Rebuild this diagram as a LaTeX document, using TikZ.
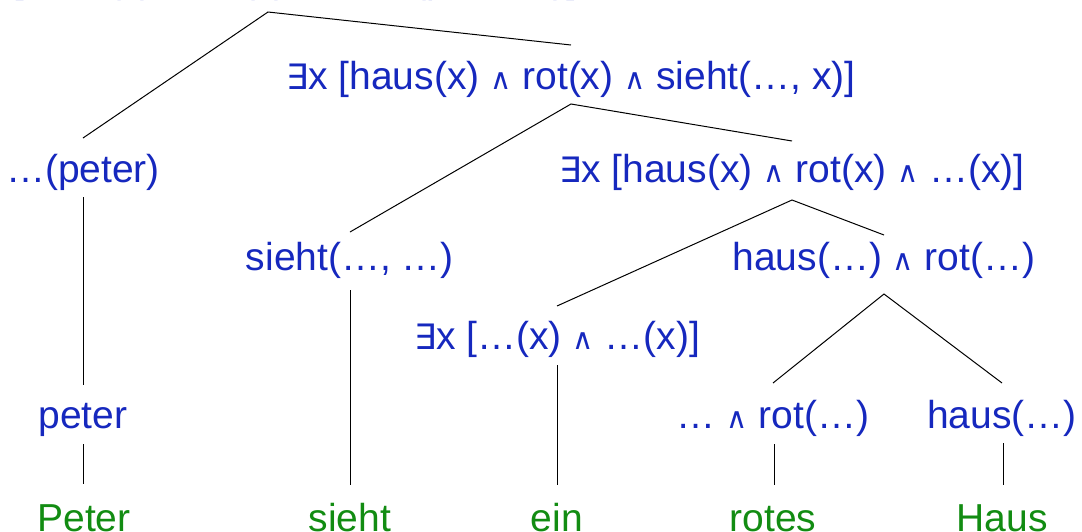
\documentclass[tikz,border=0pt]{standalone}
\usepackage{fontspec}
\setmainfont{Liberation Sans}
\newfontfamily\symf{DejaVu Sans}
\definecolor{semblue}{RGB}{22,40,190}
\definecolor{wordgreen}{RGB}{18,140,18}
\newcommand{\ex}{{\fontsize{35}{40}\selectfont\symf ∃}}
\newcommand{\aand}{{\fontsize{29}{32}\selectfont\symf ∧}}
\tikzset{
  sem/.style={anchor=base, inner sep=0pt, text=semblue, font=\fontsize{39}{45}\selectfont},
  word/.style={anchor=base, inner sep=0pt, text=wordgreen, font=\fontsize{39}{45}\selectfont},
  edge/.style={draw=black, line width=1pt}
}
\begin{document}
\begin{tikzpicture}[x=1pt,y=-1pt]
\useasboundingbox (0,0) rectangle (1082,531);
\clip (0,0) rectangle (1082,531);
% semantic nodes
\node[sem, anchor=base east] (n0) at (578,-7.5) {\ex x [haus(x) \aand{} rot(x) \aand{} sieht(peter, x)]};
\node[sem] (n1) at (571,89) {\ex x [haus(x) \aand{} rot(x) \aand{} sieht(…, x)]};
\node[sem] (n2) at (83,182) {…(peter)};
\node[sem] (n3) at (792,182) {\ex x [haus(x) \aand{} rot(x) \aand{} …(x)]};
\node[sem] (n4) at (350,270) {sieht(…, …)};
\node[sem] (n5) at (884,270) {haus(…) \aand{} rot(…)};
\node[sem] (n6) at (557,349) {\ex x […(x) \aand{} …(x)]};
\node[sem] (n7) at (83,428) {peter};
\node[sem] (n8) at (773,428) {… \aand{} rot(…)};
\node[sem] (n9) at (1002,428) {haus(…)};
% words
\node[word] (w1) at (84,531) {Peter};
\node[word] (w2) at (350,531) {sieht};
\node[word] (w3) at (557,531) {ein};
\node[word] (w4) at (773,531) {rotes};
\node[word] (w5) at (1002,531) {Haus};
% connector anchor points
\coordinate (n0-dn) at (268,12);
\coordinate (n1-up) at (571,45);
\coordinate (n1-dn) at (571,104);
\coordinate (n2-up) at (83,138);
\coordinate (n2-dn) at (83,197);
\coordinate (n3-up) at (792,141);
\coordinate (n3-dn) at (792,200);
\coordinate (n4-up) at (350,232);
\coordinate (n4-dn) at (350,290);
\coordinate (n5-up) at (884,235);
\coordinate (n5-dn) at (884,294);
\coordinate (n6-up) at (557,306);
\coordinate (n6-dn) at (557,365);
\coordinate (n7-up) at (83,385);
\coordinate (n7-dn) at (83,444);
\coordinate (n8-up) at (773,383);
\coordinate (n8-dn) at (774,444);
\coordinate (n9-up) at (1002,383);
\coordinate (n9-dn) at (1003,443);
\coordinate (w1-up) at (83,484);
\coordinate (w2-up) at (350,485);
\coordinate (w3-up) at (557,485);
\coordinate (w4-up) at (774,485);
\coordinate (w5-up) at (1003,485);
% connectors
\draw[edge] (n2-up) -- (n0-dn) -- (n1-up);
\draw[edge] (n4-up) -- (n1-dn) -- (n3-up);
\draw[edge] (n6-up) -- (n3-dn) -- (n5-up);
\draw[edge] (n8-up) -- (n5-dn) -- (n9-up);
\draw[edge] (n2-dn) -- (n7-up);
\draw[edge] (n7-dn) -- (w1-up);
\draw[edge] (n4-dn) -- (w2-up);
\draw[edge] (n6-dn) -- (w3-up);
\draw[edge] (n8-dn) -- (w4-up);
\draw[edge] (n9-dn) -- (w5-up);
\end{tikzpicture}
\end{document}
